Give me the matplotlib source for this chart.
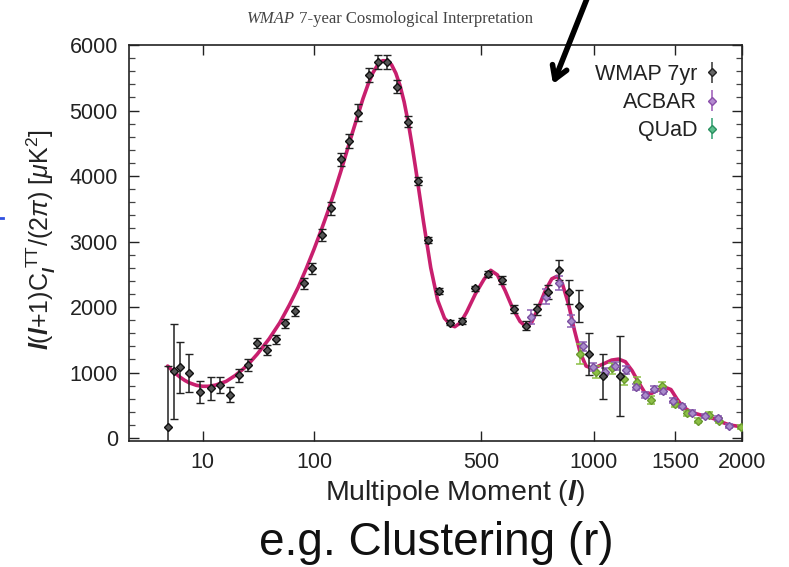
import numpy as np
import matplotlib
matplotlib.use('Agg')
import matplotlib.pyplot as plt

# WMAP 7yr binned band powers (l, D_l, error)
wmap_l = [2, 3, 4, 6, 9, 13, 17, 22, 27, 33, 40, 48, 56, 65, 76, 87, 98, 111, 125,
          141, 154, 171, 191, 210, 230, 253, 279, 304, 333, 364, 397, 436, 478, 526,
          576, 625, 675, 725, 774, 825, 874, 924, 975, 1049, 1148]
wmap_d = [163, 1023, 1079, 988, 707, 758, 809, 661, 957, 1114, 1445, 1343, 1506, 1751,
          1944, 2361, 2591, 3099, 3506, 4254, 4539, 4967, 5542, 5746, 5740, 5364, 4830,
          3924, 3023, 2244, 1761, 1786, 2285, 2499, 2412, 1964, 1715, 1964, 2234, 2565,
          2234, 2015, 1282, 946, 946]
wmap_err = [940, 725, 390, 292, 165, 170, 120, 112, 100, 90, 76, 75, 70, 70, 75, 80, 85,
            90, 100, 100, 110, 125, 110, 105, 105, 95, 80, 60, 50, 40, 40, 40, 40, 45, 55,
            60, 65, 80, 105, 153, 183, 240, 318, 344, 611]

# ACBAR
acbar_l = [695, 763, 825, 881, 943, 998, 1062, 1118, 1181, 1243, 1299, 1359, 1417,
           1485, 1543, 1616, 1710, 1811, 1897]
acbar_d = [1852, 2158, 2371, 1791, 1400, 1079, 1013, 1099, 1038, 774, 656, 743, 722,
           570, 489, 387, 336, 300, 183]
acbar_err = [110, 110, 110, 90, 70, 60, 55, 55, 55, 45, 40, 45, 45, 40, 35, 35, 35, 35, 30]

# QUaD
quad_l = [930, 1012, 1100, 1171, 1248, 1338, 1413, 1497, 1578, 1661, 1743, 1818, 1990]
quad_d = [1282, 1013, 1064, 896, 860, 580, 794, 519, 377, 265, 351, 265, 173]
quad_err = [150, 90, 80, 80, 65, 55, 65, 45, 40, 40, 40, 35, 30]

# best-fit LCDM curve
model_l = [2, 3, 4, 5, 6, 8, 10, 12, 15, 20, 25, 30, 35, 40, 50, 60, 70, 80, 90, 100,
           110, 120, 130, 140, 150, 160, 170, 180, 190, 200, 210, 220, 230, 240, 250,
           260, 270, 280, 290, 300, 320, 340, 360, 380, 400, 412, 430, 450, 480, 510,
           535, 560, 590, 620, 650, 675, 700, 730, 760, 790, 815, 840, 870, 900, 930,
           960, 990, 1020, 1060, 1100, 1140, 1180, 1220, 1260, 1300, 1340, 1380, 1430,
           1470, 1510, 1550, 1600, 1650, 1700, 1750, 1800, 1850, 1900, 1950, 2000]
model_d = [1099, 1000, 930, 880, 845, 805, 790, 790, 808, 865, 955, 1055, 1165, 1280,
           1515, 1760, 2030, 2300, 2590, 2880, 3170, 3460, 3760, 4060, 4360, 4650, 4920,
           5180, 5400, 5580, 5700, 5760, 5760, 5700, 5570, 5380, 5130, 4820, 4460, 4080,
           3300, 2600, 2100, 1830, 1720, 1700, 1760, 1920, 2200, 2420, 2560, 2490, 2250,
           1980, 1780, 1700, 1770, 2000, 2250, 2430, 2470, 2360, 2050, 1650, 1300, 1100,
           1065, 1090, 1140, 1190, 1205, 1165, 1030, 850, 690, 680, 730, 775, 740, 600,
           480, 410, 370, 340, 315, 280, 235, 200, 185, 170]

x_ticks = [10, 100, 500, 1000, 1500, 2000]


def fwd(l):
    l = np.asarray(l, dtype=float)
    return np.sign(l) * np.abs(l) ** 0.4


def inv(u):
    u = np.asarray(u, dtype=float)
    return np.sign(u) * np.abs(u) ** 2.5


plt.rcParams['font.family'] = ['Liberation Sans', 'DejaVu Sans']
plt.rcParams['mathtext.fontset'] = 'custom'
plt.rcParams['mathtext.rm'] = 'Liberation Sans'
plt.rcParams['mathtext.it'] = 'Liberation Sans:italic'
plt.rcParams['mathtext.bf'] = 'Liberation Sans:bold:italic'

W, H = 789, 567
fig = plt.figure(figsize=(W / 100, H / 100), dpi=100)
ax = fig.add_axes([129 / W, 1 - 441 / H, (742 - 129) / W, (441 - 45) / H])
ax.set_xscale('function', functions=(fwd, inv))
ax.set_xlim(0, 2000)
ax.set_ylim(-45, 6000)

ax.plot(model_l, model_d, color='#c81f6e', lw=2.6, zorder=2, solid_capstyle='round')

ebkw = dict(fmt='D', markersize=4, capsize=2.8, elinewidth=1.1, capthick=1.1, zorder=3)
ax.errorbar(quad_l, quad_d, yerr=quad_err, color='#8cbf45', mfc='#8cbf45', mec='#6a9a30', **ebkw)
ax.errorbar(acbar_l, acbar_d, yerr=acbar_err, color='#8d5fb3', mfc='#a98bcb', mec='#7a4ea0', **ebkw)
ax.errorbar(wmap_l, wmap_d, yerr=wmap_err, color='#222222', mfc='#555555', mec='#111111',
            markeredgewidth=1.0, **ebkw)

# legend proxies (legend colours differ slightly from the plotted points)
h1 = ax.errorbar([], [], yerr=[], color='#333333', mfc='#666666', mec='#222222', **ebkw)
h2 = ax.errorbar([], [], yerr=[], color='#9b59b6', mfc='#b48ad0', mec='#8a4faa', **ebkw)
h3 = ax.errorbar([], [], yerr=[], color='#2fa070', mfc='#5cc08e', mec='#2a9060', **ebkw)
leg = ax.legend([h1, h2, h3], ['WMAP 7yr', 'ACBAR', 'QUaD'], loc='upper right',
                bbox_to_anchor=(720 / W, 1 - 64 / H), bbox_transform=fig.transFigure,
                frameon=False, markerfirst=False, handlelength=0.7, handletextpad=0.35,
                labelspacing=0.33, fontsize=15.5, borderpad=0, borderaxespad=0)
for t in leg.get_texts():
    t.set_color('#222222')

ax.set_xticks(x_ticks)
ax.set_xticklabels([str(v) for v in x_ticks])
ax.set_yticks(np.arange(0, 6001, 1000))
ax.set_yticks(np.arange(0, 6001, 200), minor=True)
ax.xaxis.set_minor_locator(matplotlib.ticker.NullLocator())
ax.tick_params(axis='both', which='major', direction='in', length=7, width=1.0,
               labelsize=15.5, top=True, right=True, colors='#222222', pad=8)
ax.tick_params(axis='y', which='minor', direction='in', length=4, width=0.9,
               right=True, colors='#444444')
for s in ax.spines.values():
    s.set_linewidth(1.2)
    s.set_color('#222222')

fig.text(41 / W, 1 - 240 / H, r'$\mathbf{l}$($\mathbf{l}$+1)C$_{\mathbf{l}}^{\ \mathrm{TT}}$/(2$\pi$) [$\mu$K$^2$]',
         rotation=90, ha='center', va='center', fontsize=18, color='#222222')
fig.text(455 / W, 1 - 493 / H, r'Multipole Moment ($\mathbf{l}$)', ha='center', va='center',
         fontsize=20.5, color='#222222')

# title: italic "WMAP" followed by the rest
t1 = fig.text(247 / W, 1 - 19 / H, 'WMAP', ha='left', va='center', fontsize=12,
              family='Liberation Serif', style='italic', color='#444444')
ax.annotate(' 7-year Cosmological Interpretation', xy=(1, 0), xycoords=t1,
            ha='left', va='bottom', fontsize=12, family='Liberation Serif', color='#444444',
            annotation_clip=False)

fig.text(436 / W, 1 - 543 / H, 'e.g. Clustering (r)', ha='center', va='center',
         fontsize=33, color='#111111')

# hand-drawn arrow from the slide
ax.annotate('', xy=(553 / W, 1 - 84 / H), xycoords='figure fraction',
            xytext=(588 / W, 1 + 4 / H), textcoords='figure fraction',
            arrowprops=dict(arrowstyle='->,head_length=0.9,head_width=0.55', lw=4,
                            color='black', shrinkA=0, shrinkB=0),
            annotation_clip=False)
# small blue mark at the left edge
fig.add_artist(plt.Line2D([0, 3 / W], [1 - 218 / H, 1 - 218 / H], color='#3050e0', lw=2))

fig.savefig('out.png', dpi=100)
